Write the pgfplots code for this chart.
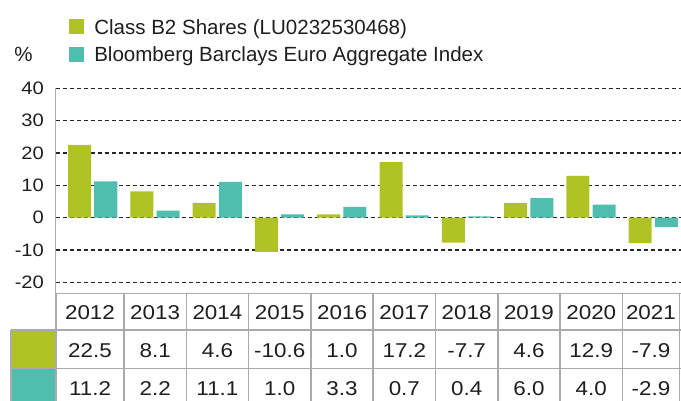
\documentclass[border=0pt]{standalone}
\usepackage{pgfplots}
\pgfplotsset{compat=1.18}
\usepackage{pgfplotstable}
\usepackage{fontspec}
\setmainfont{Liberation Sans}
\newfontfamily\tabfont[FakeStretch=1.12]{Liberation Sans}
\definecolor{cgreen}{RGB}{176,195,36}
\definecolor{cteal}{RGB}{80,190,175}
\definecolor{ctext}{RGB}{30,30,30}
\definecolor{cline}{RGB}{170,170,170}
\pgfplotstableread{
x fund index
0 22.5 11.2
1 8.1 2.2
2 4.6 11.1
3 -10.6 1.0
4 1.0 3.3
5 17.2 0.7
6 -7.7 0.4
7 4.6 6.0
8 12.9 4.0
9 -7.9 -2.9
}\datatable
\begin{document}
\begin{tikzpicture}
\clip (0,0) rectangle (510.75pt,-300pt);
\begin{axis}[
  at={(41.625pt,-66.225pt)}, anchor=north west,
  scale only axis, width=469.125pt, height=153.75pt,
  xmin=-0.597, xmax=9.445, ymin=-23.4, ymax=40,
  ybar, bar width=0.37,
  xtick=\empty,
  ytick={-20,-10,0,10,20,30,40},
  yticklabels={-20,-10,0,10,20,30,40},
  yticklabel style={font=\tabfont\fontsize{13.5}{16}\selectfont, text=ctext, inner sep=0pt, xshift=-8.5pt},
  major tick length=0pt,
  axis x line*=bottom, axis y line*=left,
  axis line style={cline, line width=1.1pt, -},
  ymajorgrids,
  grid style={black!85, dash pattern=on 3pt off 2.25pt, line width=0.95pt},
  clip=false,
]
\addplot[fill=cgreen, draw=none, bar shift=-0.21] table[x=x, y=fund] {\datatable};
\addplot[fill=cteal, draw=none, bar shift=0.21] table[x=x, y=index] {\datatable};
\end{axis}
\begin{scope}[x=0.75pt, y=-0.75pt]
  % legend
  \fill[cgreen] (69.3,19.3) rectangle (84.3,34.3);
  \fill[cteal] (69.3,46.7) rectangle (84.3,61.5);
  \node[anchor=base west, inner sep=0pt, text=ctext, font=\fontsize{15.4}{18}\selectfont] at (94,34) {Class B2 Shares (LU0232530468)};
  \node[anchor=base west, inner sep=0pt, text=ctext, font=\fontsize{15.4}{18}\selectfont] at (94,61.3) {Bloomberg Barclays Euro Aggregate Index};
  \node[anchor=base west, inner sep=0pt, text=ctext, font=\fontsize{15.4}{18}\selectfont] at (14,61.3) {\%};
  % table
  \fill[cgreen] (11,330) rectangle (56,368.3);
  \fill[cteal] (11,368.3) rectangle (56,410);
  \draw[cline, line width=1.1pt] (56,293.3) -- (681,293.3);
  \draw[cline, line width=1.1pt] (11,330) -- (681,330);
  \draw[cline, line width=1.1pt] (11,368.3) -- (681,368.3);
  \draw[cline, line width=1.1pt] (11,330) -- (11,410);
  \foreach \xx in {56,124,186.3,248.6,310.9,373.2,435.5,497.8,560.1,622.4,679.5}
    \draw[cline, line width=1.1pt] (\xx,293.3) -- (\xx,410);
  \foreach \cx/\yr/\va/\vb in {90/2012/22.5/11.2, 155.15/2013/8.1/2.2, 217.45/2014/4.6/11.1,
      279.75/2015/-10.6/1.0, 342.05/2016/1.0/3.3, 404.35/2017/17.2/0.7,
      466.65/2018/-7.7/0.4, 528.95/2019/4.6/6.0, 591.25/2020/12.9/4.0, 650.95/2021/-7.9/-2.9}{
    \node[anchor=base, inner sep=0pt, text=ctext, font=\tabfont\fontsize{15}{18}\selectfont] at (\cx,319.3) {\yr};
    \node[anchor=base, inner sep=0pt, text=ctext, font=\tabfont\fontsize{15}{18}\selectfont] at (\cx,357.3) {\va};
    \node[anchor=base, inner sep=0pt, text=ctext, font=\tabfont\fontsize{15}{18}\selectfont] at (\cx,395.5) {\vb};
  }
\end{scope}
\end{tikzpicture}
\end{document}
